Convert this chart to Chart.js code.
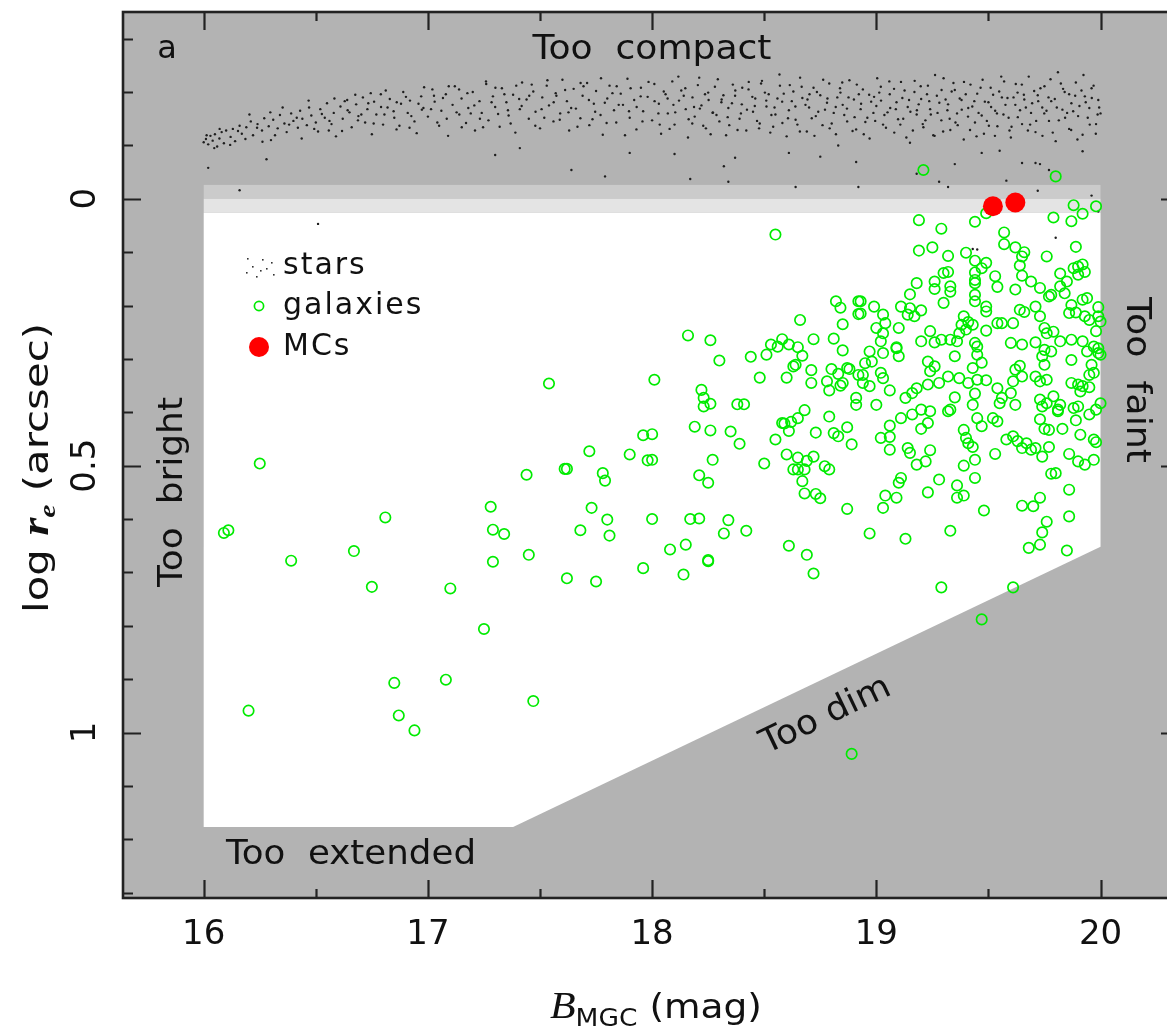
<!DOCTYPE html>
<html>
<head>
<meta charset="utf-8">
<script src="https://cdn.jsdelivr.net/npm/chart.js@4"></script>
<style>
  html, body { margin: 0; padding: 0; background: #fff; overflow: hidden; }
  canvas { display: block; }
</style>
</head>
<body>
<canvas id="sizeChart" width="1190" height="1033"></canvas>
<script>
// axis ranges (B_MGC in mag, log r_e in arcsec; y runs downward)
const magRange = [15.64, 20.35];
const reRange = [-0.35, 1.31];
const magTicks = [16, 17, 18, 19, 20];
const reTicks = [0, 0.5, 1];

// selection box: limits of the galaxy sample
const selBox = [[16, 0.026], [20, 0.026], [20, 0.652], [17.38, 1.177], [16, 1.177]];
const seeingBand = [-0.026, 0, 0.026];

// magellanic clouds
const mcs = [[19.52, 0.014], [19.62, 0.007]];

// stars (the compact sequence)
const stars = [
  [16.00,-0.106],[16.01,-0.112],[16.02,-0.102],[16.03,-0.118],[16.04,-0.109],[16.05,-0.121],[16.06,-0.098],[16.07,-0.113],
  [16.08,-0.125],[16.09,-0.104],[16.10,-0.128],[16.12,-0.116],[16.13,-0.131],[16.14,-0.108],[16.16,-0.137],[16.17,-0.122],
  [16.19,-0.134],[16.21,-0.145],[16.22,-0.119],[16.24,-0.140],[16.26,-0.128],[16.27,-0.151],[16.29,-0.136],[16.30,-0.110],
  [16.31,-0.148],[16.33,-0.132],[16.34,-0.157],[16.36,-0.141],[16.37,-0.125],[16.39,-0.160],[16.40,-0.146],[16.42,-0.133],
  [16.43,-0.165],[16.44,-0.150],[16.46,-0.138],[16.47,-0.171],[16.48,-0.156],[16.50,-0.143],[16.51,-0.126],[16.52,-0.168],
  [16.54,-0.152],[16.55,-0.179],[16.57,-0.140],[16.58,-0.161],[16.59,-0.117],[16.61,-0.173],[16.62,-0.150],[16.64,-0.185],
  [16.65,-0.162],[16.66,-0.134],[16.68,-0.177],[16.69,-0.155],[16.71,-0.190],[16.72,-0.143],[16.73,-0.168],[16.75,-0.121],
  [16.76,-0.182],[16.77,-0.158],[16.79,-0.196],[16.80,-0.139],[16.82,-0.171],[16.83,-0.187],[16.85,-0.152],[16.86,-0.130],
  [16.88,-0.178],[16.89,-0.200],[16.91,-0.161],[16.92,-0.184],[16.94,-0.145],[16.95,-0.123],[16.97,-0.192],[16.98,-0.170],
  [17.00,-0.154],[17.02,-0.205],[17.03,-0.182],[17.05,-0.137],[17.06,-0.165],[17.08,-0.196],[17.09,-0.118],[17.11,-0.176],
  [17.12,-0.211],[17.14,-0.158],[17.15,-0.188],[17.17,-0.142],[17.18,-0.170],[17.20,-0.200],[17.21,-0.128],[17.23,-0.183],
  [17.24,-0.161],[17.26,-0.215],[17.27,-0.147],[17.29,-0.192],[17.30,-0.172],[17.32,-0.135],[17.33,-0.207],[17.35,-0.181],
  [17.36,-0.156],[17.38,-0.195],[17.39,-0.124],[17.41,-0.168],[17.42,-0.218],[17.44,-0.186],[17.45,-0.150],[17.47,-0.201],
  [17.48,-0.163],[17.50,-0.132],[17.51,-0.190],[17.53,-0.212],[17.54,-0.175],[17.56,-0.145],[17.57,-0.198],[17.59,-0.160],
  [17.60,-0.223],[17.62,-0.183],[17.63,-0.128],[17.65,-0.206],[17.66,-0.169],[17.68,-0.151],[17.69,-0.193],[17.71,-0.217],
  [17.72,-0.138],[17.74,-0.178],[17.75,-0.202],[17.77,-0.157],[17.78,-0.120],[17.80,-0.188],[17.81,-0.212],[17.83,-0.166],
  [17.84,-0.143],[17.86,-0.197],[17.87,-0.176],[17.89,-0.225],[17.90,-0.152],[17.92,-0.185],[17.93,-0.130],[17.95,-0.208],
  [17.96,-0.164],[17.98,-0.191],[18.00,-0.147],[18.01,-0.215],[18.03,-0.178],[18.04,-0.122],[18.06,-0.196],[18.07,-0.160],
  [18.09,-0.220],[18.10,-0.139],[18.12,-0.184],[18.13,-0.203],[18.15,-0.168],[18.16,-0.115],[18.18,-0.190],[18.19,-0.154],
  [18.21,-0.227],[18.22,-0.175],[18.24,-0.132],[18.25,-0.199],[18.27,-0.161],[18.28,-0.210],[18.30,-0.145],[18.31,-0.186],
  [18.33,-0.119],[18.34,-0.170],[18.36,-0.214],[18.37,-0.193],[18.39,-0.150],[18.40,-0.177],[18.42,-0.128],[18.43,-0.205],
  [18.45,-0.163],[18.46,-0.188],[18.48,-0.141],[18.49,-0.221],[18.51,-0.173],[18.52,-0.196],[18.54,-0.135],[18.55,-0.158],
  [18.57,-0.212],[18.58,-0.182],[18.60,-0.117],[18.61,-0.166],[18.63,-0.201],[18.64,-0.148],[18.66,-0.227],[18.67,-0.189],
  [18.69,-0.126],[18.70,-0.171],[18.72,-0.208],[18.73,-0.155],[18.75,-0.194],[18.76,-0.138],[18.78,-0.180],[18.79,-0.216],
  [18.81,-0.161],[18.82,-0.121],[18.84,-0.199],[18.85,-0.176],[18.87,-0.145],[18.88,-0.222],[18.90,-0.186],[18.91,-0.130],
  [18.93,-0.168],[18.94,-0.205],[18.96,-0.152],[18.97,-0.113],[18.99,-0.191],[19.00,-0.174],[19.02,-0.210],[19.03,-0.139],
  [19.05,-0.162],[19.06,-0.196],[19.08,-0.124],[19.09,-0.181],[19.11,-0.219],[19.12,-0.150],[19.14,-0.172],[19.15,-0.105],
  [19.17,-0.200],[19.18,-0.158],[19.20,-0.187],[19.21,-0.134],[19.23,-0.212],[19.24,-0.168],[19.26,-0.118],[19.27,-0.193],
  [19.29,-0.147],[19.30,-0.226],[19.32,-0.177],[19.33,-0.129],[19.35,-0.204],[19.36,-0.160],[19.38,-0.185],[19.39,-0.111],
  [19.41,-0.170],[19.42,-0.214],[19.44,-0.143],[19.45,-0.197],[19.47,-0.156],[19.48,-0.122],[19.50,-0.181],[19.51,-0.208],
  [19.53,-0.165],[19.54,-0.136],[19.56,-0.190],[19.57,-0.220],[19.59,-0.152],[19.60,-0.115],[19.62,-0.176],[19.63,-0.199],
  [19.65,-0.140],[19.66,-0.186],[19.68,-0.229],[19.69,-0.161],[19.71,-0.125],[19.72,-0.194],[19.74,-0.171],[19.75,-0.211],
  [19.77,-0.146],[19.78,-0.183],[19.80,-0.108],[19.81,-0.237],[19.83,-0.167],[19.84,-0.200],[19.86,-0.131],[19.87,-0.179],
  [19.89,-0.218],[19.90,-0.155],[19.92,-0.120],[19.93,-0.192],[19.95,-0.170],[19.96,-0.207],[19.98,-0.140],[19.99,-0.185],
  [20.00,-0.160],
  [16.013,-0.119],[16.047,-0.095],[16.071,-0.131],[16.118,-0.101],[16.153,-0.127],[16.186,-0.112],[16.204,-0.158],[16.238,-0.133],
  [16.262,-0.107],[16.297,-0.162],[16.318,-0.119],[16.352,-0.171],[16.381,-0.139],[16.415,-0.152],[16.437,-0.113],[16.468,-0.184],
  [16.493,-0.131],[16.527,-0.159],[16.561,-0.146],[16.583,-0.188],[16.617,-0.127],[16.642,-0.166],[16.676,-0.195],[16.703,-0.158],
  [16.734,-0.179],[16.758,-0.141],[16.791,-0.172],[16.812,-0.203],[16.847,-0.164],[16.873,-0.137],[16.902,-0.191],[16.926,-0.155],
  [16.958,-0.178],[16.983,-0.209],[17.014,-0.168],[17.042,-0.143],[17.067,-0.189],[17.093,-0.211],[17.128,-0.162],[17.151,-0.134],
  [17.176,-0.198],[17.207,-0.175],[17.232,-0.150],[17.259,-0.220],[17.284,-0.181],[17.313,-0.159],[17.341,-0.196],[17.369,-0.141],
  [17.394,-0.212],[17.418,-0.174],[17.452,-0.193],[17.479,-0.137],[17.507,-0.168],[17.533,-0.222],[17.561,-0.181],[17.588,-0.148],
  [17.612,-0.204],[17.639,-0.170],[17.667,-0.135],[17.694,-0.211],[17.718,-0.185],[17.746,-0.163],[17.772,-0.226],[17.797,-0.142],
  [17.823,-0.198],[17.851,-0.176],[17.879,-0.119],[17.904,-0.207],[17.931,-0.172],[17.957,-0.145],[17.984,-0.219],[18.011,-0.183],
  [18.028,-0.160],[18.052,-0.201],[18.078,-0.131],[18.095,-0.176],[18.117,-0.229],[18.141,-0.193],[18.163,-0.149],[18.187,-0.172],
  [18.204,-0.213],[18.228,-0.137],[18.252,-0.185],[18.271,-0.162],[18.293,-0.224],[18.318,-0.194],[18.337,-0.153],[18.356,-0.179],
  [18.381,-0.129],[18.402,-0.208],[18.423,-0.167],[18.447,-0.191],[18.468,-0.146],[18.486,-0.216],[18.509,-0.184],[18.527,-0.124],
  [18.546,-0.171],[18.568,-0.233],[18.587,-0.197],[18.606,-0.151],[18.623,-0.183],[18.648,-0.139],[18.667,-0.210],[18.684,-0.176],
  [18.702,-0.196],[18.724,-0.118],[18.741,-0.163],[18.763,-0.223],[18.782,-0.188],[18.801,-0.141],[18.819,-0.172],[18.838,-0.207],
  [18.857,-0.157],[18.876,-0.190],[18.894,-0.127],[18.913,-0.214],[18.932,-0.178],[18.951,-0.144],[18.968,-0.195],[18.987,-0.161],
  [19.004,-0.226],[19.021,-0.184],[19.043,-0.133],[19.062,-0.170],[19.079,-0.206],[19.097,-0.149],[19.116,-0.189],[19.134,-0.115],
  [19.152,-0.163],[19.171,-0.221],[19.189,-0.177],[19.207,-0.140],[19.226,-0.196],[19.243,-0.158],[19.262,-0.232],[19.281,-0.180],
  [19.298,-0.126],[19.317,-0.166],[19.336,-0.201],[19.353,-0.143],[19.372,-0.188],[19.391,-0.219],[19.409,-0.154],[19.428,-0.173],
  [19.447,-0.117],[19.465,-0.208],[19.484,-0.182],[19.502,-0.137],[19.521,-0.195],[19.538,-0.160],[19.557,-0.229],[19.576,-0.176],
  [19.594,-0.128],[19.612,-0.190],[19.631,-0.153],[19.649,-0.214],[19.667,-0.171],[19.686,-0.139],[19.704,-0.202],[19.722,-0.183],
  [19.741,-0.118],[19.759,-0.165],[19.777,-0.224],[19.796,-0.187],[19.814,-0.147],[19.833,-0.206],[19.851,-0.161],[19.869,-0.129],
  [19.887,-0.193],[19.906,-0.174],[19.924,-0.232],[19.943,-0.152],[19.961,-0.189],[19.979,-0.122],[19.994,-0.171],
  [18.034,-0.139],[18.069,-0.188],[18.103,-0.162],[18.148,-0.207],[18.179,-0.141],[18.213,-0.169],[18.236,-0.196],[18.261,-0.121],
  [18.287,-0.157],[18.309,-0.181],[18.344,-0.138],[18.371,-0.203],[18.396,-0.160],[18.431,-0.219],[18.458,-0.174],[18.477,-0.132],
  [18.503,-0.199],[18.532,-0.157],[18.559,-0.188],[18.581,-0.142],[18.614,-0.213],[18.639,-0.173],[18.659,-0.126],[18.693,-0.186],
  [18.712,-0.151],[18.735,-0.200],[18.771,-0.167],[18.792,-0.132],[18.826,-0.190],[18.848,-0.218],[18.869,-0.169],[18.903,-0.153],
  [18.922,-0.196],[18.944,-0.121],[18.977,-0.182],[18.995,-0.146],[19.013,-0.199],[19.036,-0.157],[19.058,-0.220],[19.087,-0.168],
  [19.107,-0.139],[19.126,-0.203],[19.146,-0.185],[19.163,-0.128],[19.181,-0.166],[19.198,-0.211],[19.219,-0.147],[19.236,-0.183],
  [19.254,-0.119],[19.273,-0.161],[19.291,-0.204],[19.309,-0.186],[19.327,-0.150],[19.344,-0.217],[19.363,-0.138],[19.381,-0.167],
  [19.399,-0.196],[19.418,-0.129],[19.437,-0.183],[19.456,-0.161],[19.474,-0.223],[19.493,-0.146],[19.512,-0.172],[19.529,-0.118],
  [19.548,-0.201],[19.567,-0.158],[19.585,-0.189],[19.603,-0.135],[19.622,-0.215],[19.641,-0.166],[19.658,-0.195],[19.676,-0.128],
  [19.695,-0.179],[19.713,-0.146],[19.732,-0.207],[19.749,-0.160],[19.768,-0.190],[19.787,-0.124],[19.805,-0.171],[19.823,-0.216],
  [19.842,-0.152],[19.860,-0.196],[19.878,-0.164],[19.897,-0.111],[19.915,-0.203],[19.934,-0.181],[19.952,-0.139],[19.969,-0.212],
  [19.987,-0.158],
  [16.558,-0.128],[16.629,-0.183],[16.688,-0.147],[16.745,-0.198],[16.806,-0.158],[16.861,-0.181],[16.918,-0.133],[16.973,-0.167],
  [17.027,-0.193],[17.084,-0.150],[17.139,-0.205],[17.191,-0.160],[17.246,-0.134],[17.301,-0.208],[17.357,-0.166],[17.407,-0.187],
  [17.463,-0.214],[17.519,-0.152],[17.573,-0.193],[17.627,-0.162],[17.681,-0.217],[17.734,-0.149],[17.789,-0.180],[17.842,-0.211],
  [17.897,-0.164],[17.949,-0.192],
  [16.02,-0.058],[16.28,-0.074],[16.51,0.047],[16.16,-0.016],[17.30,-0.082],[17.41,-0.095],[17.64,-0.054],[17.79,-0.042],
  [17.90,-0.086],[18.17,-0.037],[18.34,-0.032],[18.32,-0.061],[18.64,-0.022],[18.92,-0.022],[18.91,-0.069],[19.18,-0.047],
  [19.28,-0.032],[19.32,-0.022],[19.35,-0.065],[19.58,-0.034],[19.65,-0.067],[19.72,-0.015],[19.71,-0.067],[19.73,-0.065],
  [19.77,-0.054],[19.96,-0.006],[19.47,-0.086],[19.55,-0.090],[19.92,-0.089],[18.37,-0.077],[18.10,-0.084],[18.61,-0.086],
  [18.75,-0.079],[18.83,-0.100],[19.80,0.073],[19.43,0.094],[19.45,0.095],[19.99,0.024]
];

// galaxies
const galaxies = [
  [16.09,0.626],[16.11,0.621],[16.25,0.496],[16.39,0.678],[16.81,0.597],[16.67,0.660],[16.75,0.727],[17.10,0.730],
  [17.28,0.577],[17.29,0.620],[17.34,0.628],[17.29,0.680],[17.45,0.667],[17.44,0.517],[17.54,0.346],[17.61,0.506],
  [17.62,0.506],[17.62,0.711],[17.75,0.717],[17.96,0.692],[18.14,0.704],[18.25,0.679],[18.72,0.702],[17.25,0.806],
  [16.85,0.907],[17.08,0.901],[16.20,0.959],[16.87,0.968],[16.94,0.996],[17.47,0.941],[18.89,1.040],
  [18.16,0.256],[18.26,0.265],[18.30,0.303],[18.01,0.339],[18.22,0.358],[18.23,0.373],[18.23,0.389],[18.26,0.384],
  [18.38,0.385],[18.41,0.385],[18.19,0.427],[18.26,0.434],[18.35,0.436],[18.39,0.459],[17.96,0.443],[18.00,0.441],
  [17.72,0.473],[17.90,0.479],[17.98,0.490],[18.00,0.489],[18.27,0.489],[17.78,0.514],[17.79,0.528],[18.21,0.518],
  [18.25,0.532],[17.73,0.579],[17.80,0.601],[17.68,0.621],[17.81,0.631],[18.00,0.600],[18.17,0.600],[18.21,0.599],
  [18.34,0.602],[18.32,0.627],[18.42,0.622],[18.15,0.648],[18.08,0.657],[18.25,0.677],[18.61,0.650],[18.69,0.667],
  [18.87,0.581],[18.50,0.496],[18.55,0.451],[18.60,0.479],[18.65,0.485],[18.69,0.491],[18.72,0.483],[18.63,0.507],
  [18.65,0.507],[18.68,0.507],[18.67,0.529],[18.68,0.552],[18.73,0.553],[18.75,0.561],[18.77,0.501],[18.79,0.507],
  [18.58,0.420],[18.59,0.421],[18.62,0.418],[18.65,0.411],[18.61,0.435],[18.68,0.396],[18.73,0.438],[18.79,0.408],
  [18.81,0.439],[18.83,0.445],[18.87,0.428],[18.89,0.460],[18.91,0.373],[18.91,0.386],[18.48,0.335],[18.44,0.296],
  [18.51,0.292],[18.53,0.273],[18.56,0.277],[18.58,0.263],[18.61,0.273],[18.65,0.278],[18.67,0.294],[18.66,0.227],
  [18.63,0.314],[18.64,0.311],[18.60,0.335],[18.72,0.263],[18.71,0.321],[18.71,0.345],[18.78,0.342],[18.79,0.359],
  [18.80,0.319],[18.83,0.328],[18.84,0.350],[18.85,0.345],[18.88,0.319],[18.81,0.262],[18.85,0.284],[18.85,0.235],
  [18.82,0.192],[18.84,0.204],[18.92,0.192],[18.92,0.216],[18.92,0.330],[18.55,0.067],
  [19.21,-0.054],[19.80,-0.042],[19.88,0.012],[19.98,0.014],[19.92,0.028],[19.79,0.035],[19.87,0.042],[19.49,0.027],
  [19.44,0.043],[19.19,0.040],[19.29,0.056],[19.57,0.063],[19.57,0.085],[19.62,0.091],[19.66,0.100],[19.65,0.108],
  [19.76,0.108],[19.89,0.090],[19.19,0.097],[19.25,0.091],[19.32,0.107],[19.40,0.101],[19.44,0.116],[19.49,0.120],
  [19.47,0.130],[19.64,0.125],[19.65,0.144],[19.53,0.145],[19.54,0.165],[19.44,0.138],[19.44,0.152],[19.44,0.158],
  [19.30,0.139],[19.32,0.137],[19.33,0.164],[19.33,0.174],[19.26,0.155],[19.26,0.169],[19.18,0.158],[19.15,0.179],
  [19.30,0.195],[19.44,0.180],[19.44,0.192],[19.49,0.202],[19.49,0.211],[19.62,0.170],[19.69,0.155],[19.73,0.167],
  [19.78,0.180],[19.77,0.183],[19.82,0.140],[19.85,0.155],[19.88,0.130],[19.90,0.127],[19.92,0.123],[19.93,0.137],
  [19.90,0.142],[19.84,0.177],[19.92,0.189],[19.94,0.186],[19.99,0.203],[19.87,0.199],[19.86,0.214],[19.89,0.213],
  [19.93,0.220],[19.95,0.227],[19.99,0.220],[20.00,0.230],[19.71,0.202],[19.73,0.220],[19.75,0.242],[19.79,0.249],
  [19.76,0.252],[19.64,0.208],[19.66,0.212],[19.54,0.233],[19.56,0.233],[19.61,0.233],[19.49,0.247],[19.39,0.220],
  [19.41,0.231],[19.38,0.236],[19.43,0.236],[19.40,0.245],[19.37,0.252],[19.36,0.267],[19.44,0.270],[19.45,0.277],
  [19.29,0.264],[19.33,0.264],[19.24,0.248],[19.26,0.269],[19.20,0.267],[19.10,0.242],[19.09,0.280],[19.03,0.217],
  [19.04,0.233],[19.03,0.252],[19.02,0.267],[19.11,0.202],[19.15,0.205],[19.17,0.220],[19.14,0.217],[19.20,0.209],
  [18.99,0.202],[19.00,0.242],[18.93,0.192],[18.93,0.215],[18.97,0.286],[19.03,0.289],[19.09,0.278],[19.65,0.273],
  [19.60,0.270],[19.71,0.269],[19.75,0.283],[19.78,0.286],[19.82,0.267],[19.87,0.264],[19.92,0.267],[19.97,0.277],
  [19.99,0.280],[19.82,0.164],[19.98,0.248],
  [18.87,0.317],[18.94,0.330],[18.94,0.345],[18.97,0.351],[18.95,0.308],[18.98,0.305],[19.10,0.295],[19.02,0.326],
  [19.03,0.336],[19.06,0.359],[19.00,0.386],[18.97,0.627],[19.13,0.637],[19.03,0.579],[19.04,0.556],[19.09,0.560],
  [19.10,0.532],[19.11,0.523],[19.06,0.470],[19.06,0.446],[19.02,0.448],[19.06,0.425],[19.11,0.411],[19.14,0.467],
  [19.15,0.476],[19.18,0.498],[19.16,0.404],[19.20,0.395],[19.20,0.431],[19.23,0.420],[19.24,0.398],[19.22,0.492],
  [19.24,0.471],[19.23,0.550],[19.28,0.526],[19.33,0.622],[19.13,0.373],[19.16,0.364],[19.18,0.355],[19.23,0.348],
  [19.28,0.345],[19.33,0.395],[19.32,0.398],[19.35,0.372],[19.32,0.333],[19.37,0.336],[19.41,0.345],[19.45,0.339],
  [19.49,0.340],[19.54,0.355],[19.44,0.365],[19.43,0.386],[19.45,0.411],[19.47,0.426],[19.52,0.411],[19.54,0.417],
  [19.39,0.433],[19.40,0.448],[19.41,0.458],[19.43,0.465],[19.39,0.500],[19.44,0.489],[19.36,0.537],[19.36,0.560],
  [19.39,0.556],[19.44,0.523],[19.48,0.584],[19.53,0.478],[19.56,0.373],[19.55,0.383],[19.60,0.364],[19.62,0.386],
  [19.58,0.451],[19.61,0.445],[19.63,0.454],[19.65,0.467],[19.67,0.458],[19.69,0.470],[19.71,0.467],[19.62,0.320],
  [19.64,0.313],[19.61,0.342],[19.65,0.333],[19.73,0.413],[19.75,0.431],[19.77,0.433],[19.74,0.483],[19.77,0.465],
  [19.78,0.515],[19.80,0.514],[19.65,0.575],[19.70,0.576],[19.73,0.560],[19.76,0.605],[19.74,0.625],[19.68,0.654],
  [19.73,0.648],[19.85,0.659],[19.86,0.545],[19.86,0.595],[19.86,0.478],[19.90,0.492],[19.93,0.498],[19.97,0.489],
  [19.91,0.442],[19.97,0.451],[19.98,0.456],[19.83,0.431],[19.89,0.415],[19.95,0.404],[19.98,0.395],[20.00,0.383],
  [19.73,0.376],[19.76,0.383],[19.74,0.389],[19.79,0.370],[19.81,0.395],[19.82,0.386],[19.81,0.398],[19.73,0.342],
  [19.76,0.339],[19.71,0.333],[19.75,0.311],[19.74,0.295],[19.87,0.302],[19.87,0.345],[19.90,0.348],[19.92,0.351],
  [19.91,0.361],[19.95,0.353],[19.96,0.311],[19.97,0.326],[19.95,0.330],[19.94,0.286],[19.99,0.289],[20.00,0.292],
  [19.90,0.389],[19.88,0.392],[19.45,0.292],[19.47,0.307],[19.43,0.317],[19.35,0.295],[19.23,0.305],[19.26,0.314],
  [19.24,0.323],[19.47,0.788],[19.61,0.728],[19.29,0.728]
];

const toXY = arr => arr.map(p => ({ x: p[0], y: p[1] }));
const FONT = '"DejaVu Sans", sans-serif';

// draw a string centred at (x,y), optionally rotated and squeezed to a width
function label(ctx, s, x, y, size, rot, width) {
  ctx.save();
  ctx.translate(x, y);
  ctx.rotate(rot || 0);
  ctx.font = size + 'px ' + FONT;
  if (width) {
    const w = ctx.measureText(s).width;
    ctx.scale(width / w, 1);
  }
  ctx.textAlign = 'center';
  ctx.textBaseline = 'middle';
  ctx.fillStyle = '#111';
  ctx.fillText(s, 0, 0);
  ctx.restore();
}

// text built from several pieces (sub/superscripts), centred on (x,y)
function richLabel(ctx, parts, x, y, rot, width) {
  ctx.save();
  ctx.translate(x, y);
  ctx.rotate(rot || 0);
  let total = 0;
  parts.forEach(p => { ctx.font = p.f; p.w = ctx.measureText(p.s).width; total += p.w; });
  const k = width ? width / total : 1;
  ctx.scale(k, 1);
  ctx.textAlign = 'left';
  ctx.textBaseline = 'alphabetic';
  ctx.fillStyle = '#111';
  let cx = -total / 2;
  parts.forEach(p => {
    ctx.font = p.f;
    ctx.fillText(p.s, cx, p.dy || 0);
    cx += p.w;
  });
  ctx.restore();
}

const framePlugin = {
  id: 'frame',
  beforeDatasetsDraw(chart) {
    const { ctx, chartArea: a, scales: { x, y } } = chart;
    ctx.save();
    ctx.fillStyle = '#b3b3b3';
    ctx.fillRect(a.left, a.top, a.right - a.left, a.bottom - a.top);
    // seeing band
    const bx0 = x.getPixelForValue(selBox[0][0]), bx1 = x.getPixelForValue(selBox[1][0]);
    ctx.fillStyle = '#cbcbcb';
    ctx.fillRect(bx0, y.getPixelForValue(seeingBand[0]), bx1 - bx0,
      y.getPixelForValue(seeingBand[1]) - y.getPixelForValue(seeingBand[0]));
    ctx.fillStyle = '#e4e4e4';
    ctx.fillRect(bx0, y.getPixelForValue(seeingBand[1]), bx1 - bx0,
      y.getPixelForValue(seeingBand[2]) - y.getPixelForValue(seeingBand[1]));
    // selection region
    ctx.fillStyle = '#ffffff';
    ctx.beginPath();
    selBox.forEach((p, i) => {
      const px = x.getPixelForValue(p[0]), py = y.getPixelForValue(p[1]);
      if (i === 0) ctx.moveTo(px, py); else ctx.lineTo(px, py);
    });
    ctx.closePath();
    ctx.fill();
    ctx.restore();
  },
  afterDraw(chart) {
    const { ctx, chartArea: a, scales: { x, y } } = chart;
    ctx.save();
    ctx.strokeStyle = '#222';
    ctx.lineWidth = 2.2;
    // ticks
    ctx.beginPath();
    for (let v = 16; v <= 20.001; v += 0.5) {
      const px = Math.round(x.getPixelForValue(v)) + 0.5;
      const len = Math.abs(v - Math.round(v)) < 1e-6 ? 18 : 9;
      ctx.moveTo(px, a.bottom); ctx.lineTo(px, a.bottom - len);
      ctx.moveTo(px, a.top); ctx.lineTo(px, a.top + len);
    }
    for (let i = -3; i <= 13; i++) {
      const v = i / 10;
      const py = Math.round(y.getPixelForValue(v)) + 0.5;
      const len = i % 5 === 0 ? 18 : 10;
      ctx.moveTo(a.left, py); ctx.lineTo(a.left + len, py);
      ctx.moveTo(a.right, py); ctx.lineTo(a.right - len, py);
    }
    ctx.stroke();
    ctx.lineWidth = 2.6;
    ctx.strokeRect(a.left, a.top, a.right - a.left, a.bottom - a.top);
    ctx.restore();

    // tick labels
    magTicks.forEach(v => label(ctx, String(v), x.getPixelForValue(v), 935, 34));
    reTicks.forEach(v => label(ctx, String(v), 86, y.getPixelForValue(v), 34, -Math.PI / 2));

    // axis titles
    richLabel(ctx, [
      { s: 'B', f: 'italic 38px "Liberation Serif", serif' },
      { s: 'MGC', f: '24px ' + FONT, dy: 8 },
      { s: ' (mag)', f: '34px ' + FONT }
    ], 656, 1018, 0, 212);
    richLabel(ctx, [
      { s: 'log ', f: '34px ' + FONT },
      { s: 'r', f: 'bold italic 38px "Liberation Serif", serif' },
      { s: 'e', f: 'bold italic 24px "Liberation Serif", serif', dy: 7 },
      { s: ' (arcsec)', f: '34px ' + FONT }
    ], 48, 468, -Math.PI / 2, 290);

    // region annotations
    label(ctx, 'a', 167, 50, 32);
    label(ctx, 'Too  compact', 652, 50, 34, 0, 239);
    label(ctx, 'Too  bright', 173, 492, 34, -Math.PI / 2, 190);
    label(ctx, 'Too  faint', 1136, 380, 34, Math.PI / 2, 166);
    label(ctx, 'Too dim', 826, 716, 34, -0.445, 140);
    label(ctx, 'Too  extended', 351, 855, 34, 0, 250);

    // legend
    ctx.save();
    ctx.fillStyle = '#333';
    [[247, 258], [252, 266], [246, 272], [256, 276], [262, 259], [266, 268], [271, 262], [260, 270], [273, 274]]
      .forEach(p => ctx.fillRect(p[0], p[1], 1.6, 1.6));
    ctx.strokeStyle = 'rgb(0,235,0)';
    ctx.lineWidth = 1.7;
    ctx.beginPath(); ctx.arc(259, 306, 4.6, 0, Math.PI * 2); ctx.stroke();
    ctx.fillStyle = '#ff0000';
    ctx.beginPath(); ctx.arc(259, 347, 10, 0, Math.PI * 2); ctx.fill();
    ctx.font = '30px ' + FONT;
    ctx.letterSpacing = '2px';
    ctx.fillStyle = '#111';
    ctx.textAlign = 'left';
    ctx.textBaseline = 'middle';
    ctx.fillText('stars', 283, 266);
    ctx.fillText('galaxies', 283, 306);
    ctx.fillText('MCs', 283, 347);
    ctx.restore();
  }
};

new Chart(document.getElementById('sizeChart'), {
  type: 'scatter',
  data: {
    datasets: [
      {
        label: 'MCs',
        data: toXY(mcs),
        pointRadius: 10,
        pointBackgroundColor: '#ff0000',
        pointBorderWidth: 0
      },
      {
        label: 'galaxies',
        data: toXY(galaxies),
        pointRadius: 5.2,
        pointBackgroundColor: 'rgba(0,0,0,0)',
        pointBorderColor: 'rgb(0,235,0)',
        pointBorderWidth: 1.7
      },
      {
        label: 'stars',
        data: toXY(stars),
        pointRadius: 1.2,
        pointBackgroundColor: '#1e1e1e',
        pointBorderWidth: 0
      }
    ]
  },
  options: {
    responsive: false,
    devicePixelRatio: 1,
    animation: false,
    events: [],
    layout: { padding: { left: 123, top: 12, right: 11, bottom: 135 } },
    plugins: { legend: { display: false }, tooltip: { enabled: false } },
    scales: {
      x: { type: 'linear', min: magRange[0], max: magRange[1], display: false },
      y: { type: 'linear', min: reRange[0], max: reRange[1], reverse: true, display: false }
    }
  },
  plugins: [framePlugin]
});
</script>
</body>
</html>
